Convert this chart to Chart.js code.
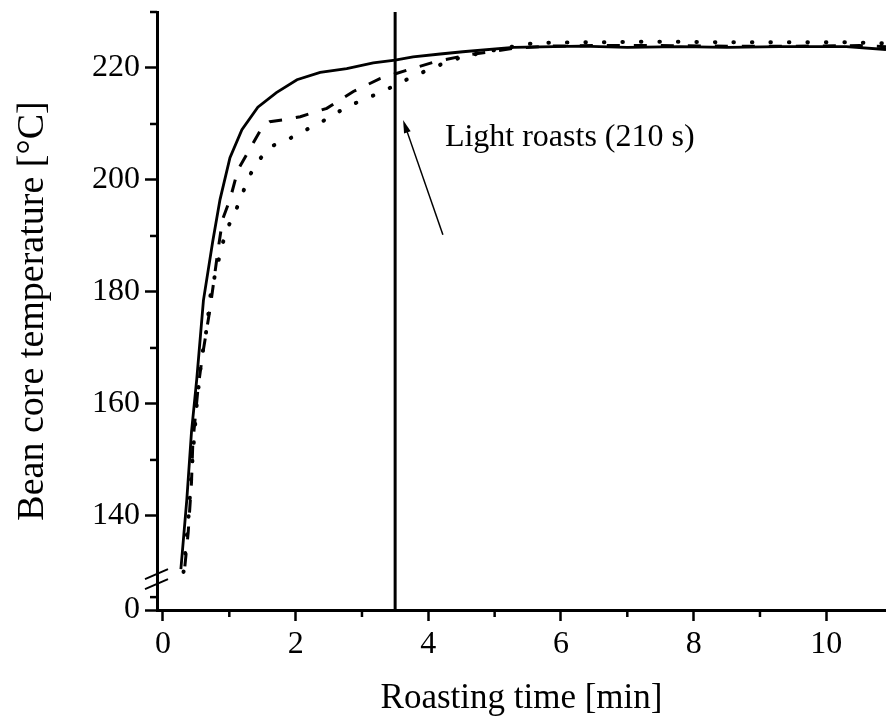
<!DOCTYPE html>
<html>
<head>
<meta charset="utf-8">
<script src="https://cdn.jsdelivr.net/npm/chart.js@4.4.0/dist/chart.umd.min.js"></script>
<style>
    html, body { margin: 0; padding: 0; background: #fff; }
    canvas { display: block; }
</style>
</head>
<body>
<canvas id="roastChart" width="886" height="725"></canvas>
<script>
// Données : temps en min, température du grain en °C
const timeSolid = [0.27, 0.36, 0.43, 0.51, 0.61, 0.75, 0.86, 1.01, 1.19, 1.43, 1.71, 2.02, 2.37, 2.77, 3.17, 3.5, 3.77, 4.18, 4.52, 5.28, 6.3, 7.0, 7.8, 8.5, 9.3, 10.3, 10.9];
const tempSolid = [130.5, 143, 155, 164.5, 178.5, 189, 196.5, 204, 209, 213, 215.6, 217.9, 219.2, 219.9, 220.9, 221.4, 222, 222.5, 222.9, 223.7, 223.9, 223.7, 223.8, 223.7, 223.8, 223.8, 223.3];

const timeDashed = [0.33, 0.38, 0.43, 0.45, 0.53, 0.6, 0.71, 0.83, 0.9, 1.01, 1.13, 1.36, 1.5, 1.61, 1.85, 2.07, 2.47, 2.87, 3.27, 3.7, 4.1, 4.58, 5.28, 5.8, 6.5, 7.5, 8.5, 9.5, 10.5, 10.9];
const tempDashed = [131, 137, 146, 153, 163, 169, 177, 187.5, 193, 196.5, 201.8, 206.6, 209.5, 210.4, 210.8, 211.3, 212.8, 215.8, 218.1, 219.7, 221.1, 222.3, 223.5, 223.9, 224, 224, 223.9, 223.9, 224, 223.8];

const timeDotted = [0.31, 0.38, 0.45, 0.51, 0.58, 0.66, 0.72, 0.9, 0.98, 1.09, 1.19, 1.29, 1.41, 1.61, 1.86, 2.07, 2.52, 2.77, 3.02, 3.27, 3.52, 3.77, 4.03, 4.28, 4.5, 4.76, 5.0, 5.26, 5.5, 5.76, 6.5, 7.5, 8.5, 9.5, 10.3, 10.9];
const tempDotted = [130, 139, 151, 160, 168, 173.5, 179.8, 188.7, 191.6, 194.3, 197.3, 200.4, 203, 205.9, 207.1, 208.4, 211.2, 213.1, 214.3, 215.6, 217, 218.5, 219.8, 221.1, 221.9, 222.6, 223.2, 223.8, 224.3, 224.5, 224.6, 224.7, 224.6, 224.6, 224.6, 224.4];

// Repère "Light roasts" à 210 s
const lightRoastTime = 3.5;
const annotationText = 'Light roasts (210 s)';

// Graduations
const xTicks = [0, 2, 4, 6, 8, 10];
const xMinorTicks = [1, 3, 5, 7, 9];
const yTicks = [140, 160, 180, 200, 220];
const yMinorTicks = [125.5, 150, 170, 190, 210, 230];
const yBreakLabel = '0';   // l'axe est coupé : le bas de l'axe vaut 0

// Bornes des axes
const xMin = -0.09, xMax = 10.9;
const yMin = 123.2, yMax = 230;
const yBreakAt = 128.7;

const FONT = "'Liberation Serif', 'Times New Roman', serif";

function toPoints(xs, ys) {
    return xs.map((v, i) => ({ x: v, y: ys[i] }));
}

// Annotations et détails d'axe (petites graduations, coupure, flèche)
const decorPlugin = {
    id: 'decor',
    afterDraw(chart) {
        const { ctx, chartArea, scales } = chart;
        const x = scales.x, y = scales.y;
        ctx.save();
        ctx.strokeStyle = '#000';
        ctx.fillStyle = '#000';
        ctx.lineWidth = 2.5;

        // petites graduations
        xMinorTicks.forEach(v => {
            const px = x.getPixelForValue(v);
            ctx.beginPath();
            ctx.moveTo(px, chartArea.bottom);
            ctx.lineTo(px, chartArea.bottom + 7);
            ctx.stroke();
        });
        yMinorTicks.forEach(v => {
            const py = y.getPixelForValue(v);
            ctx.beginPath();
            ctx.moveTo(chartArea.left, py);
            ctx.lineTo(chartArea.left - 7, py);
            ctx.stroke();
        });

        // coupure de l'axe des ordonnées
        const bx = chartArea.left, by = y.getPixelForValue(yBreakAt);
        ctx.lineWidth = 2;
        [-5, 5].forEach(d => {
            ctx.beginPath();
            ctx.moveTo(bx - 12, by + d + 5);
            ctx.lineTo(bx + 11, by + d - 5);
            ctx.stroke();
        });

        // texte de l'annotation
        ctx.font = '32px ' + FONT;
        ctx.textAlign = 'left';
        ctx.textBaseline = 'alphabetic';
        ctx.fillText(annotationText, x.getPixelForValue(4.25), y.getPixelForValue(206.1));

        // flèche
        const x0 = x.getPixelForValue(4.22), y0 = y.getPixelForValue(190.2);
        const x1 = x.getPixelForValue(3.62), y1 = y.getPixelForValue(210.7);
        const ang = Math.atan2(y1 - y0, x1 - x0);
        ctx.lineWidth = 1.5;
        ctx.beginPath();
        ctx.moveTo(x0, y0);
        ctx.lineTo(x1 - 8 * Math.cos(ang), y1 - 8 * Math.sin(ang));
        ctx.stroke();
        ctx.beginPath();
        ctx.moveTo(x1, y1);
        ctx.lineTo(x1 - 13 * Math.cos(ang) + 3.5 * Math.sin(ang), y1 - 13 * Math.sin(ang) - 3.5 * Math.cos(ang));
        ctx.lineTo(x1 - 13 * Math.cos(ang) - 3.5 * Math.sin(ang), y1 - 13 * Math.sin(ang) + 3.5 * Math.cos(ang));
        ctx.closePath();
        ctx.fill();

        ctx.restore();
    }
};

const ctx = document.getElementById('roastChart');

new Chart(ctx, {
    type: 'line',
    data: {
        datasets: [{
            label: 'solid',
            data: toPoints(timeSolid, tempSolid),
            borderColor: '#000',
            borderWidth: 2.8,
            pointRadius: 0,
            tension: 0
        }, {
            label: 'dashed',
            data: toPoints(timeDashed, tempDashed),
            borderColor: '#000',
            borderWidth: 3,
            borderDash: [13, 14],
            pointRadius: 0,
            tension: 0
        }, {
            label: 'dotted',
            data: toPoints(timeDotted, tempDotted),
            borderColor: '#000',
            borderWidth: 4,
            borderDash: [0.5, 18],
            borderCapStyle: 'round',
            pointRadius: 0,
            tension: 0
        }, {
            label: 'light roast',
            data: [{ x: lightRoastTime, y: yMin }, { x: lightRoastTime, y: yMax }],
            borderColor: '#000',
            borderWidth: 3,
            pointRadius: 0
        }]
    },
    options: {
        responsive: false,
        animation: false,
        devicePixelRatio: 1,
        layout: { padding: { top: 12, right: 0, left: 0, bottom: 0 } },
        plugins: {
            legend: { display: false },
            tooltip: { enabled: false }
        },
        scales: {
            x: {
                type: 'linear',
                min: xMin,
                max: xMax,
                afterBuildTicks(scale) {
                    scale.ticks = xTicks.map(v => ({ value: v }));
                },
                afterFit(scale) {
                    scale.height = 115;
                    scale.paddingLeft = 0;
                    scale.paddingRight = 0;
                },
                ticks: {
                    color: '#000',
                    font: { family: FONT, size: 32 },
                    padding: 4,
                    maxRotation: 0,
                    callback: v => String(v)
                },
                grid: {
                    drawOnChartArea: false,
                    drawTicks: true,
                    tickLength: 11,
                    tickWidth: 2.5,
                    tickColor: '#000',
                    color: '#000'
                },
                border: { display: true, color: '#000', width: 3 },
                title: {
                    display: true,
                    text: 'Roasting time [min]',
                    color: '#000',
                    font: { family: FONT, size: 35, weight: 'normal' },
                    padding: { top: 0, bottom: 5 }
                }
            },
            y: {
                type: 'linear',
                min: yMin,
                max: yMax,
                afterBuildTicks(scale) {
                    scale.ticks = [yMin].concat(yTicks).map(v => ({ value: v }));
                },
                afterFit(scale) {
                    scale.width = 157;
                    scale.paddingTop = 0;
                    scale.paddingBottom = 0;
                },
                ticks: {
                    color: '#000',
                    font: { family: FONT, size: 32 },
                    padding: 5,
                    callback: v => (v === yMin ? yBreakLabel : String(v))
                },
                grid: {
                    drawOnChartArea: false,
                    drawTicks: true,
                    tickLength: 12,
                    tickWidth: 2.5,
                    tickColor: '#000',
                    color: '#000'
                },
                border: { display: true, color: '#000', width: 3 },
                title: {
                    display: true,
                    text: 'Bean core temperature [°C]',
                    color: '#000',
                    font: { family: FONT, size: 38, weight: 'normal' },
                    padding: { top: 10, bottom: 0 }
                }
            }
        }
    },
    plugins: [decorPlugin]
});
</script>
</body>
</html>
